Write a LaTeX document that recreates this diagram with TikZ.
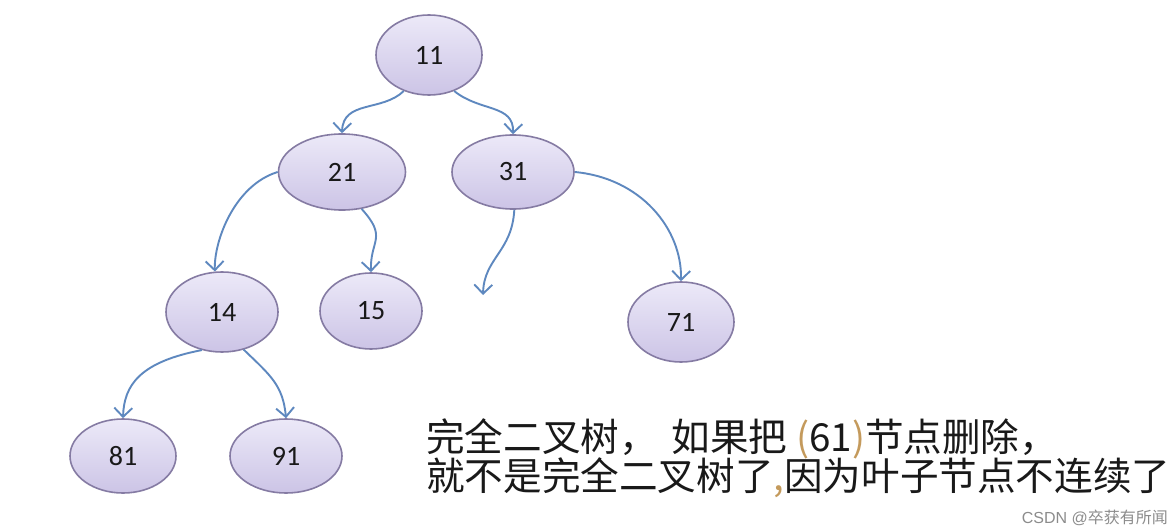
\documentclass[tikz,border=0pt]{standalone}
\usepackage{fontspec}
\newfontfamily\numfont{Carlito}
\newfontfamily\cjk{Noto Sans CJK SC}
\usetikzlibrary{shapes.geometric,arrows.meta}
\definecolor{ellborder}{HTML}{857BA3}
\definecolor{elltop}{HTML}{ECE9F8}
\definecolor{ellbot}{HTML}{CCC4E6}
\definecolor{arrowblue}{HTML}{5E88BF}
\definecolor{tan}{HTML}{C49A5C}
\tikzset{
  treenode/.style={ellipse, draw=ellborder, line width=1.6pt, top color=elltop, bottom color=ellbot,
    inner sep=0pt, font=\numfont\fontsize{28}{28}\selectfont, text=black!90},
  link/.style={draw=arrowblue, line width=1.9pt,
    -{Straight Barb[length=9pt,width=18pt,line width=1.9pt]}},
  cjktext/.style={anchor=base west, inner sep=0pt, font=\cjk\fontsize{38.6}{38.6}\selectfont, text=black!90},
}
\begin{document}
\begin{tikzpicture}[x=1pt,y=-1pt]
\useasboundingbox[fill=white] (0,0) rectangle (1176,532);
\node[treenode, minimum width=106pt, minimum height=80pt] (n11) at (429,55) {11};
\node[treenode, minimum width=127pt, minimum height=76pt] (n21) at (342,172) {21};
\node[treenode, minimum width=122pt, minimum height=74pt] (n31) at (513,172) {31};
\node[treenode, minimum width=112pt, minimum height=80pt] (n14) at (222,312) {14};
\node[treenode, minimum width=102pt, minimum height=76pt] (n15) at (371,311) {15};
\node[treenode, minimum width=106pt, minimum height=80pt] (n71) at (681,322) {71};
\node[treenode, minimum width=106pt, minimum height=74pt] (n81) at (123,456) {81};
\node[treenode, minimum width=112pt, minimum height=74pt] (n91) at (286,456) {91};
\coordinate (gap) at (483,295);

\draw[link] (n11.235) .. controls (382,112) and (343,100) .. (n21.north);
\draw[link] (n11.-55) .. controls (480,112) and (514,104) .. (n31.north);
\draw[link] (n21.west) .. controls (235,185) and (214,240) .. (n14.100);
\draw[link] (n21.-62) .. controls (388,238) and (370,240) .. (n15.north);
\draw[link] (n31.-88) .. controls (512,252) and (484,258) .. (gap);
\draw[link] (n31.east) .. controls (640,178) and (682,228) .. (n71.north);
\draw[link] (n14.-118) .. controls (140,362) and (124,385) .. (n81.north);
\draw[link] (n14.-60) .. controls (270,375) and (283,385) .. (n91.north);

\node[cjktext] (line1) at (426,451) {完全二叉树，\hspace{14pt}如果把 {\color{tan}(}61{\color{tan})}节点删除，};
\node[cjktext] (line2) at (426,490) {就不是完全二叉树了{\color{tan},}因为叶子节点不连续了};
\node[anchor=base east, inner sep=0pt, font=\fontspec{Liberation Sans}\fontsize{16}{16}\selectfont, text=black!45] (mark) at (1168,523) {CSDN @{\cjk 卒获有所闻}};
\end{tikzpicture}
\end{document}
